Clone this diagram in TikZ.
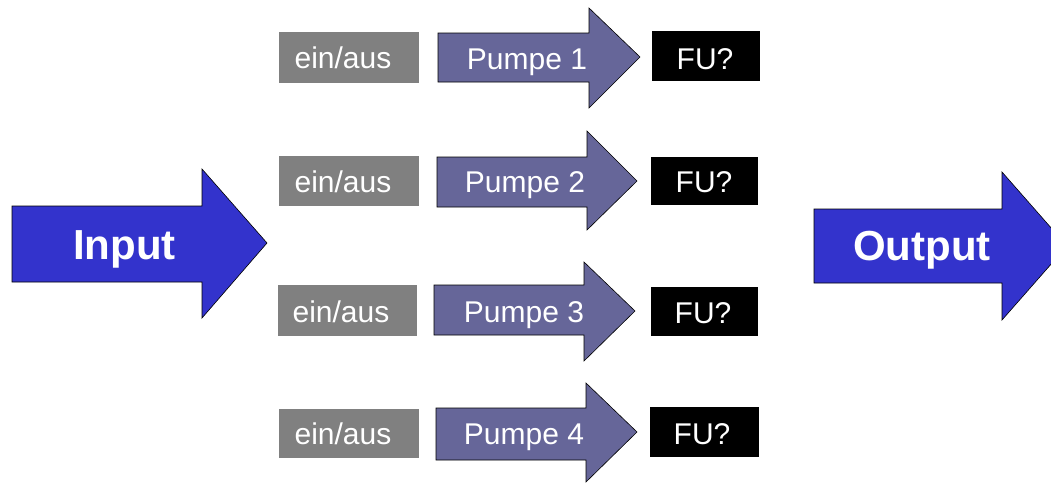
\documentclass[tikz,border=0pt]{standalone}
\usepackage{fontspec}
\setmainfont{Liberation Sans}
\definecolor{bigblue}{HTML}{3333CC}
\definecolor{pumpviolet}{HTML}{666699}
\definecolor{switchgray}{HTML}{808080}
\begin{document}
\begin{tikzpicture}[x=1pt,y=-1pt,
  bigarrow/.style={fill=bigblue,draw=black,line width=0.6pt},
  pumparrow/.style={fill=pumpviolet,draw=black,line width=0.6pt},
  switchbox/.style={fill=switchgray},
  fubox/.style={fill=black},
  smalltext/.style={text=white,font=\fontsize{30}{36}\selectfont,anchor=base,inner sep=0pt},
  bigtext/.style={text=white,font=\fontsize{42}{50}\selectfont\bfseries,anchor=base,inner sep=0pt}]
\useasboundingbox (0,0) rectangle (1051,482);
\clip (0,0) rectangle (1051,482);
% Input / Output
\draw[bigarrow] (12,206) -- (202,206) -- (202,169) -- (267,243) -- (202,318) -- (202,282) -- (12,282) -- cycle;
\node[bigtext] (input) at (124.5,259) {Input};
\draw[bigarrow] (814,209) -- (1002,209) -- (1002,172) -- (1067,246) -- (1002,320) -- (1002,283) -- (814,283) -- cycle;
\node[bigtext] (output) at (922,260) {Output};
% Row 1
\fill[switchbox] (279,32) rectangle (419,83);
\node[smalltext] (s1) at (343,68) {ein/aus};
\draw[pumparrow] (438,33) -- (589,33) -- (589,8) -- (640,57) -- (589,108) -- (589,82) -- (438,82) -- cycle;
\node[smalltext] (p1) at (527,69) {Pumpe 1};
\fill[fubox] (652,31) rectangle (760,81);
\node[smalltext] (f1) at (705,69) {FU?};
% Row 2
\fill[switchbox] (279,156) rectangle (419,206);
\node[smalltext] (s2) at (343,192) {ein/aus};
\draw[pumparrow] (437,157) -- (587,157) -- (587,131) -- (637,181) -- (587,230) -- (587,207) -- (437,207) -- cycle;
\node[smalltext] (p2) at (525,192) {Pumpe 2};
\fill[fubox] (651,157) rectangle (758,205);
\node[smalltext] (f2) at (704,192) {FU?};
% Row 3
\fill[switchbox] (278,285) rectangle (417,336);
\node[smalltext] (s3) at (341,322) {ein/aus};
\draw[pumparrow] (434,285) -- (584,285) -- (584,262) -- (635,311) -- (584,361) -- (584,335) -- (434,335) -- cycle;
\node[smalltext] (p3) at (524,322) {Pumpe 3};
\fill[fubox] (651,287) rectangle (758,336);
\node[smalltext] (f3) at (703,323) {FU?};
% Row 4
\fill[switchbox] (279,409) rectangle (419,458);
\node[smalltext] (s4) at (343,444) {ein/aus};
\draw[pumparrow] (436,408) -- (586,408) -- (586,383) -- (637,432) -- (586,482) -- (586,460) -- (436,460) -- cycle;
\node[smalltext] (p4) at (524,444) {Pumpe 4};
\fill[fubox] (650,407) rectangle (759,457);
\node[smalltext] (f4) at (702,444) {FU?};
\end{tikzpicture}
\end{document}
